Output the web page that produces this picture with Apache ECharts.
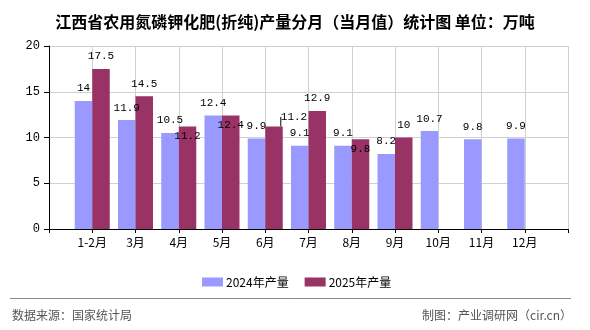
<!DOCTYPE html>
<html>
<head>
<meta charset="utf-8">
<script src="https://cdn.jsdelivr.net/npm/echarts@6/dist/echarts.min.js"></script>
<style>
html,body{margin:0;padding:0;background:#fff;}
#chart{width:590px;height:330px;}
</style>
</head>
<body>
<div id="chart"></div>
<script>
var titleText = '江西省农用氮磷钾化肥(折纯)产量分月（当月值）统计图 单位：万吨';
var categories = ['1-2月','3月','4月','5月','6月','7月','8月','9月','10月','11月','12月'];
var seriesNames = ['2024年产量','2025年产量'];
var values2024 = [14, 11.9, 10.5, 12.4, 9.9, 9.1, 9.1, 8.2, 10.7, 9.8, 9.9];
var values2025 = [17.5, 14.5, 11.2, 12.4, 11.2, 12.9, 9.8, 10];
var yTicks = [0, 5, 10, 15, 20];
var sourceText = '数据来源：国家统计局';
var creditText = '制图：产业调研网（cir.cn）';

// label placement tweaks for the 2025 series (by category index)
var insideLabels2025 = [2, 3, 6];
var movedLabels2025 = {4: {dx: 20, dy: 3}};

var axisData = [''].concat(categories).concat(['']);
function pad(arr, label) {
  var out = [null];
  for (var i = 0; i < categories.length; i++) {
    if (i < arr.length) {
      var item = {value: arr[i]};
      if (label && insideLabels2025.indexOf(i) >= 0) {
        item.label = {position: 'insideTop', distance: 4};
      }
      if (label && movedLabels2025[i]) {
        item.labelLine = {show: true, lineStyle: {color: '#000', width: 1}};
      }
      out.push(item);
    } else out.push(null);
  }
  out.push(null);
  return out;
}

var labelFont = {fontFamily: 'Liberation Mono', fontSize: 11, color: '#000'};

var chart = echarts.init(document.getElementById('chart'), null, {renderer: 'canvas'});
chart.setOption({
  animation: false,
  backgroundColor: '#fff',
  title: {
    text: titleText,
    left: 'center',
    top: 9,
    textStyle: {fontFamily: 'Noto Sans CJK SC', fontSize: 16, fontWeight: 'bold', color: '#000'}
  },
  legend: {
    data: seriesNames,
    left: 197,
    top: 271,
    itemWidth: 21,
    itemHeight: 9,
    itemGap: 16,
    icon: 'rect',
    textStyle: {fontFamily: 'Noto Sans CJK SC', fontSize: 12, color: '#000', padding: [0,0,0,-2]}
  },
  grid: {left: 49, right: 22, top: 46, bottom: 101, containLabel: false},
  xAxis: {
    type: 'category',
    data: axisData,
    boundaryGap: false,
    axisLine: {lineStyle: {color: '#000', width: 1}},
    axisTick: {show: true, length: 4, lineStyle: {color: '#000'}},
    axisLabel: {margin: 7, interval: 0, fontFamily: 'Noto Sans CJK SC', fontSize: 12, color: '#000'},
    splitLine: {show: true, lineStyle: {color: '#d0d0d0', width: 1}}
  },
  yAxis: {
    type: 'value',
    min: yTicks[0],
    max: yTicks[yTicks.length - 1],
    interval: 5,
    axisLine: {show: true, lineStyle: {color: '#000', width: 1}},
    axisTick: {show: true, length: 5, lineStyle: {color: '#000'}},
    axisLabel: {margin: 9, fontFamily: 'Liberation Mono', fontSize: 12, color: '#000'},
    splitLine: {show: true, lineStyle: {color: '#d0d0d0', width: 1}}
  },
  series: [
    {
      name: seriesNames[0],
      type: 'bar',
      data: pad(values2024, false),
      barWidth: 17.5,
      barGap: '0%',
      itemStyle: {color: '#9999FF'},
      label: Object.assign({show: true, position: 'top', distance: 7}, labelFont)
    },
    {
      name: seriesNames[1],
      type: 'bar',
      data: pad(values2025, true),
      barWidth: 17.5,
      barGap: '0%',
      itemStyle: {color: '#993366'},
      label: Object.assign({show: true, position: 'top', distance: 7}, labelFont),
      labelLine: {show: false},
      labelLayout: function (p) {
        var m = movedLabels2025[p.dataIndex - 1];
        if (m) return {dx: m.dx, dy: m.dy};
        return {};
      }
    }
  ],
  graphic: [
    {type: 'line', shape: {x1: 10, y1: 298.5, x2: 571, y2: 298.5}, style: {stroke: '#888', lineWidth: 1}},
    {type: 'text', left: 12, top: 309, style: {text: sourceText, font: '12px "Noto Sans CJK SC"', fill: '#555'}},
    {type: 'text', right: 18, top: 309, style: {text: creditText, font: '12px "Noto Sans CJK SC"', fill: '#555'}}
  ]
});
</script>
</body>
</html>
